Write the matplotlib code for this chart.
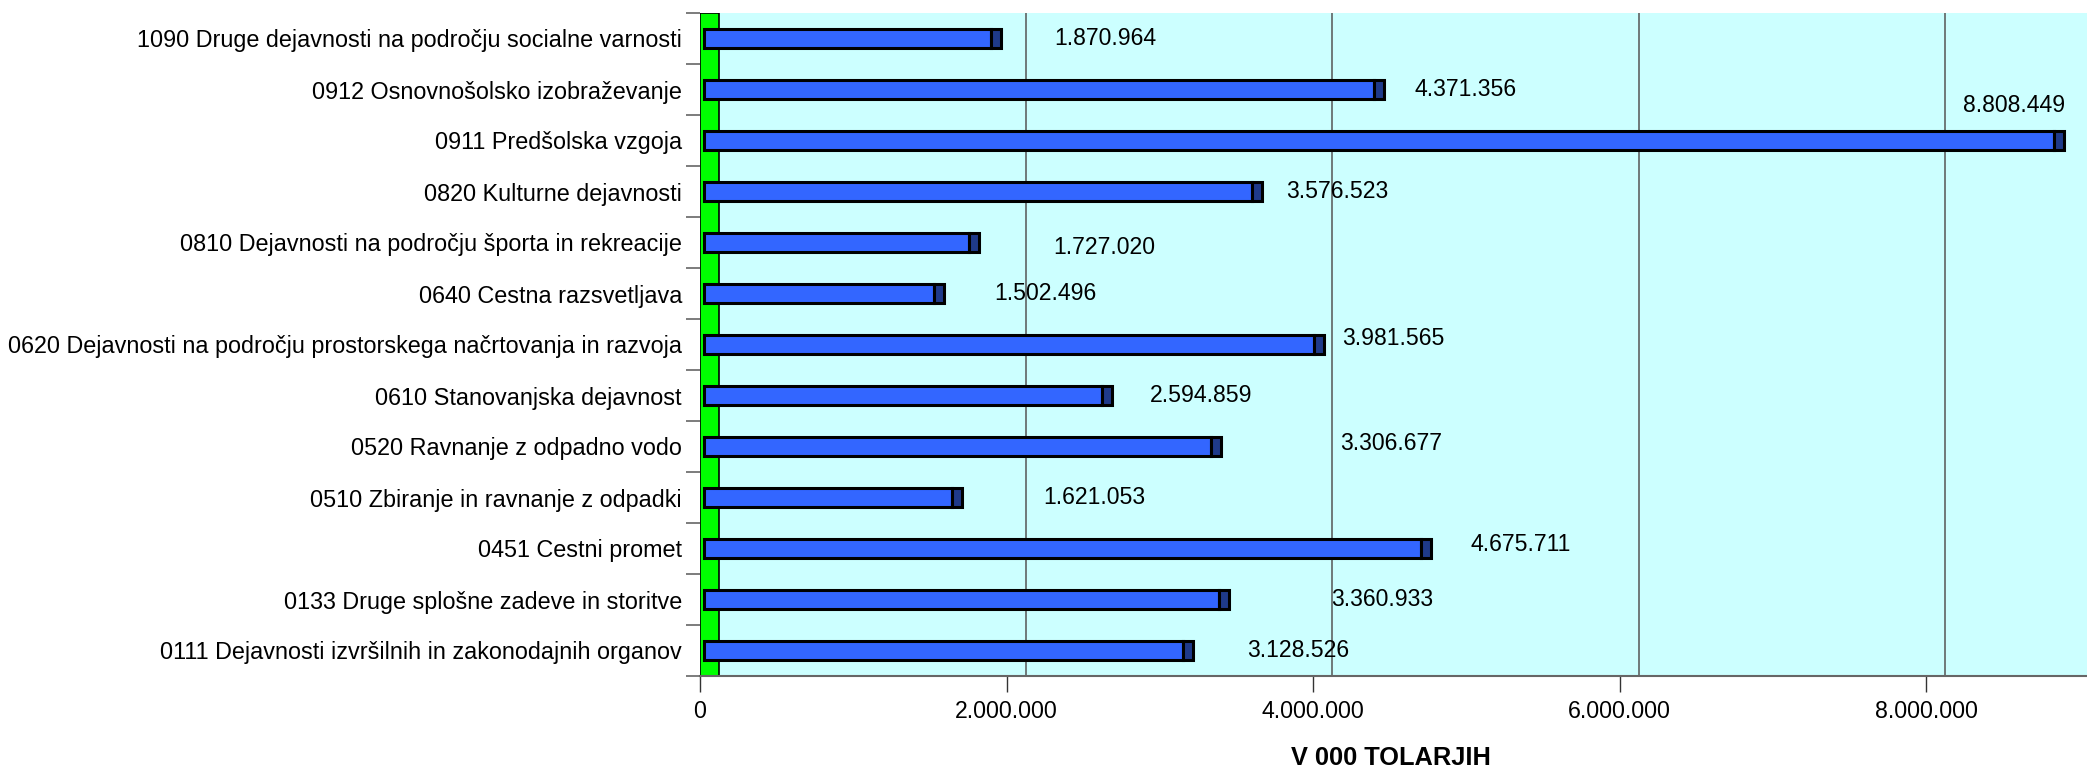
import matplotlib.pyplot as plt
from matplotlib.patches import Rectangle

plt.rcParams['font.family'] = ['Liberation Sans', 'DejaVu Sans']

categories = [
    '1090 Druge dejavnosti na področju socialne varnosti',
    '0912 Osnovnošolsko izobraževanje',
    '0911 Predšolska vzgoja',
    '0820 Kulturne dejavnosti',
    '0810 Dejavnosti na področju športa in rekreacije',
    '0640 Cestna razsvetljava',
    '0620 Dejavnosti na področju prostorskega načrtovanja in razvoja',
    '0610 Stanovanjska dejavnost',
    '0520 Ravnanje z odpadno vodo',
    '0510 Zbiranje in ravnanje z odpadki',
    '0451 Cestni promet',
    '0133 Druge splošne zadeve in storitve',
    '0111 Dejavnosti izvršilnih in zakonodajnih organov',
]
values = [1870964, 4371356, 8808449, 3576523, 1727020, 1502496, 3981565,
          2594859, 3306677, 1621053, 4675711, 3360933, 3128526]
x_ticks = [0, 2000000, 4000000, 6000000, 8000000]

# rocne pozicije oznak (kot v originalu), dx v milijonih, dy v kategorijah
label_dx = [0.44, 0.29, -0.57, 0.25, 0.58, 0.42, 0.21, 0.34, 0.87, 0.62, 0.35, 0.76, 0.44]
label_dy = [0, 0, -0.69, 0, 0.10, 0, -0.12, 0, -0.05, 0, -0.08, 0, 0]

W, H = 2087, 771
fig = plt.figure(figsize=(W / 100, H / 100), dpi=100)
ax = fig.add_axes([700 / W, (H - 676) / H, (W - 700) / W, (676 - 13) / H])

px = 1e6 / 153.25          # enote na piksel
xmax = (W - 700) * px
depth = 19 * px
off = 4 * px
cap = 10 * px
n = len(categories)

ax.set_xlim(0, xmax)
ax.set_ylim(n - 0.5, -0.5)

# stene
ax.add_patch(Rectangle((depth, -0.5), xmax - depth, n, facecolor='#CCFFFF',
                       edgecolor='none', zorder=0))
ax.add_patch(Rectangle((0, -0.5), depth, n, facecolor='#00FF00',
                       edgecolor='black', lw=1.2, zorder=1))
ax.vlines([t + depth for t in x_ticks[1:]], -0.5, n - 0.5, color='#555555',
          lw=1.1, zorder=1)

ypos = list(range(n))
h = 0.39
ax.barh(ypos, values, left=off, height=h, color='#3366FF', edgecolor='black',
        lw=2.2, zorder=3)
ax.barh(ypos, [cap] * n, left=[v + off for v in values], height=h,
        color='#1F3A8A', edgecolor='black', lw=2.2, zorder=3)

for i, v in enumerate(values):
    txt = f'{v:,}'.replace(',', '.')
    ax.text(v + label_dx[i] * 1e6, i + label_dy[i], txt, ha='left',
            va='center', fontsize=16.6, zorder=4)

ax.set_xticks(x_ticks)
ax.set_xticklabels([f'{t:,}'.replace(',', '.') for t in x_ticks], fontsize=16.7)
ax.tick_params(axis='x', length=11.5, width=1, color='#333333', pad=6)

ax.set_yticks(ypos)
ax.set_yticklabels(categories, fontsize=16.8)
ax.set_yticks([i - 0.5 for i in range(n + 1)], minor=True)
ax.tick_params(axis='y', which='major', length=0, pad=13)
ax.tick_params(axis='y', which='minor', length=10, width=1.2, color='#666666')

for s in ['top', 'right']:
    ax.spines[s].set_visible(False)
ax.spines['left'].set_visible(False)
ax.spines['bottom'].set_color('#666666')
ax.spines['bottom'].set_linewidth(1.5)

fig.text(1391 / W, 1 - 758 / H, 'V 000 TOLARJIH', ha='center', va='center',
         fontsize=18.3, fontweight='bold')

fig.savefig('out.png', dpi=100)
